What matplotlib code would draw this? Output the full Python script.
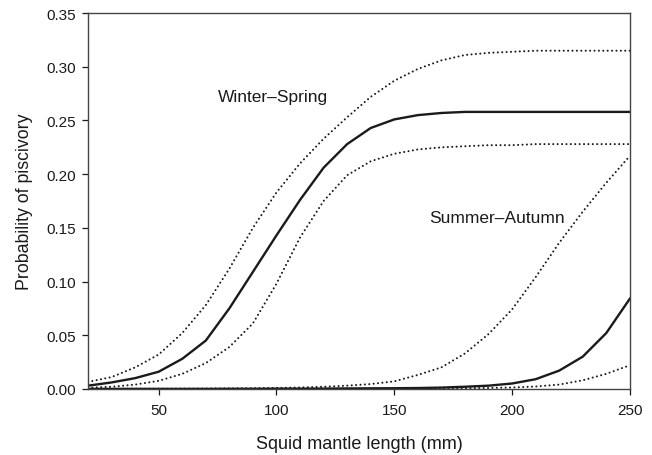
import numpy as np
import matplotlib.pyplot as plt

plt.rcParams["font.family"] = ["Liberation Sans", "DejaVu Sans"]

# -------- data --------
length_mm = [20, 30, 40, 50, 60, 70, 80, 90, 100, 110, 120, 130, 140, 150,
             160, 170, 180, 190, 200, 210, 220, 230, 240, 250]

ws_fit = [0.003, 0.006, 0.010, 0.016, 0.028, 0.045, 0.075, 0.109, 0.143, 0.176,
          0.206, 0.228, 0.243, 0.251, 0.255, 0.257, 0.258, 0.258, 0.258, 0.258,
          0.258, 0.258, 0.258, 0.258]
ws_upper = [0.0065, 0.011, 0.020, 0.032, 0.052, 0.078, 0.112, 0.150, 0.183, 0.210,
            0.233, 0.253, 0.272, 0.287, 0.298, 0.306, 0.311, 0.313, 0.314, 0.315,
            0.315, 0.315, 0.315, 0.315]
ws_lower = [0.001, 0.002, 0.004, 0.0075, 0.014, 0.024, 0.039, 0.061, 0.098, 0.141,
            0.175, 0.199, 0.212, 0.219, 0.223, 0.225, 0.226, 0.227, 0.227, 0.228,
            0.228, 0.228, 0.228, 0.228]

sa_fit = [0.0, 0.0, 0.0, 0.0, 0.0, 0.0, 0.0001, 0.0001, 0.0002, 0.0002,
          0.0003, 0.0004, 0.0005, 0.0006, 0.0008, 0.0012, 0.002, 0.003, 0.005, 0.009,
          0.017, 0.030, 0.052, 0.084]
sa_upper = [0.0, 0.0, 0.0001, 0.0001, 0.0002, 0.0003, 0.0004, 0.0006, 0.0009, 0.0013,
            0.002, 0.003, 0.0045, 0.007, 0.013, 0.020, 0.033, 0.051, 0.074, 0.104,
            0.136, 0.165, 0.192, 0.217]
sa_lower = [0.0, 0.0, 0.0, 0.0, 0.0, 0.0, 0.0, 0.0, 0.0, 0.0,
            0.0, 0.0001, 0.0001, 0.0002, 0.0003, 0.0004, 0.0006, 0.0009, 0.0013, 0.0022,
            0.004, 0.008, 0.014, 0.022]

x_ticks = [50, 100, 150, 200, 250]
y_ticks = [0.00, 0.05, 0.10, 0.15, 0.20, 0.25, 0.30, 0.35]

# -------- plot --------
fig = plt.figure(figsize=(6.52, 4.56), dpi=100)
ax = fig.add_axes([0.135, 0.145, 0.831, 0.824])

ink = "#1a1a1a"
dot = dict(color=ink, lw=1.5, ls=(0, (0.01, 2.1)), dash_capstyle="round")
solid = dict(color=ink, lw=1.7, solid_joinstyle="round")

ax.plot(length_mm, ws_fit, **solid)
ax.plot(length_mm, ws_upper, **dot)
ax.plot(length_mm, ws_lower, **dot)
ax.plot(length_mm, sa_fit, **solid)
ax.plot(length_mm, sa_upper, **dot)
ax.plot(length_mm, sa_lower, **dot)

ax.text(75, 0.272, "Winter\u2013Spring", fontsize=12.5, color=ink, va="center")
ax.text(165, 0.160, "Summer\u2013Autumn", fontsize=12.5, color=ink, va="center")

ax.set_xlim(20, 250)
ax.set_ylim(0, 0.35)
ax.set_xticks(x_ticks)
ax.set_yticks(y_ticks)
ax.set_yticklabels([f"{v:.2f}" for v in y_ticks])
ax.tick_params(direction="out", length=4.3, labelsize=11, colors=ink, width=0.9)
ax.tick_params(axis="x", pad=6)
ax.tick_params(axis="y", pad=4)
for s in ax.spines.values():
    s.set_color("#444444")
    s.set_linewidth(1.0)

ax.set_xlabel("Squid mantle length (mm)", fontsize=13, color=ink, labelpad=13)
ax.set_ylabel("Probability of piscivory", fontsize=12.8, color=ink, labelpad=10)

fig.savefig("out.png", dpi=100)
